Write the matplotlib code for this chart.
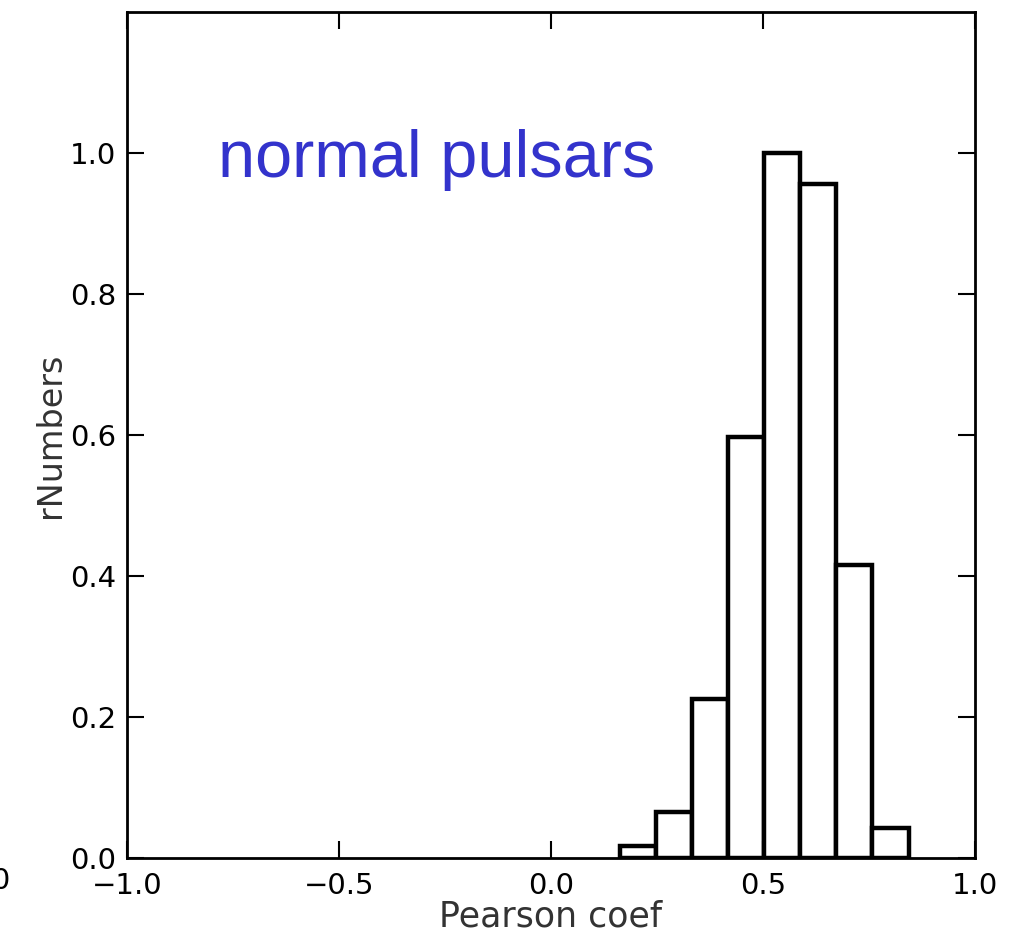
import numpy as np
import matplotlib
matplotlib.use('Agg')
import matplotlib.pyplot as plt

# histogram of Pearson coefficients (normalised to the peak bin)
bin_edges = [0.163, 0.248, 0.333, 0.418, 0.503, 0.588, 0.673, 0.758, 0.843]
heights = [0.017, 0.065, 0.225, 0.597, 1.0, 0.957, 0.416, 0.042]

xticks = [-1.0, -0.5, 0.0, 0.5, 1.0]
yticks = [0.0, 0.2, 0.4, 0.6, 0.8, 1.0]

fig = plt.figure(figsize=(10.2, 9.41), dpi=100)
ax = fig.add_axes([0.1245, 0.0882, 0.8315, 0.8988])

widths = np.diff(bin_edges)
ax.bar(bin_edges[:-1], heights, width=widths, align='edge',
       facecolor='white', edgecolor='black', linewidth=3.2)

ax.set_xlim(-1.0, 1.0)
ax.set_ylim(0, 1.2)
ax.set_xticks(xticks)
ax.set_yticks(yticks)
ax.set_xticklabels(['\u22121.0', '\u22120.5', '0.0', '0.5', '1.0'])
ax.set_yticklabels(['%.1f' % v for v in yticks])
ax.tick_params(direction='in', length=12, width=1.5, labelsize=21,
               top=True, right=True, pad=8)
ax.tick_params(axis='x', pad=10)
for s in ax.spines.values():
    s.set_linewidth(2)

ax.set_xlabel('Pearson coef', fontsize=25, color='#333333', labelpad=0)
ax.set_ylabel('rNumbers', fontsize=24, color='#333333', labelpad=2)

ax.text(0.107, 0.805, 'normal pulsars', transform=ax.transAxes,
        fontsize=48, color='#3333cc', family='Liberation Sans',
        va='baseline')

# label cut off from neighbouring panel
fig.text(0.011, 0.064, '1.0', fontsize=21, ha='right', va='center')

fig.savefig('out.png', dpi=100)
